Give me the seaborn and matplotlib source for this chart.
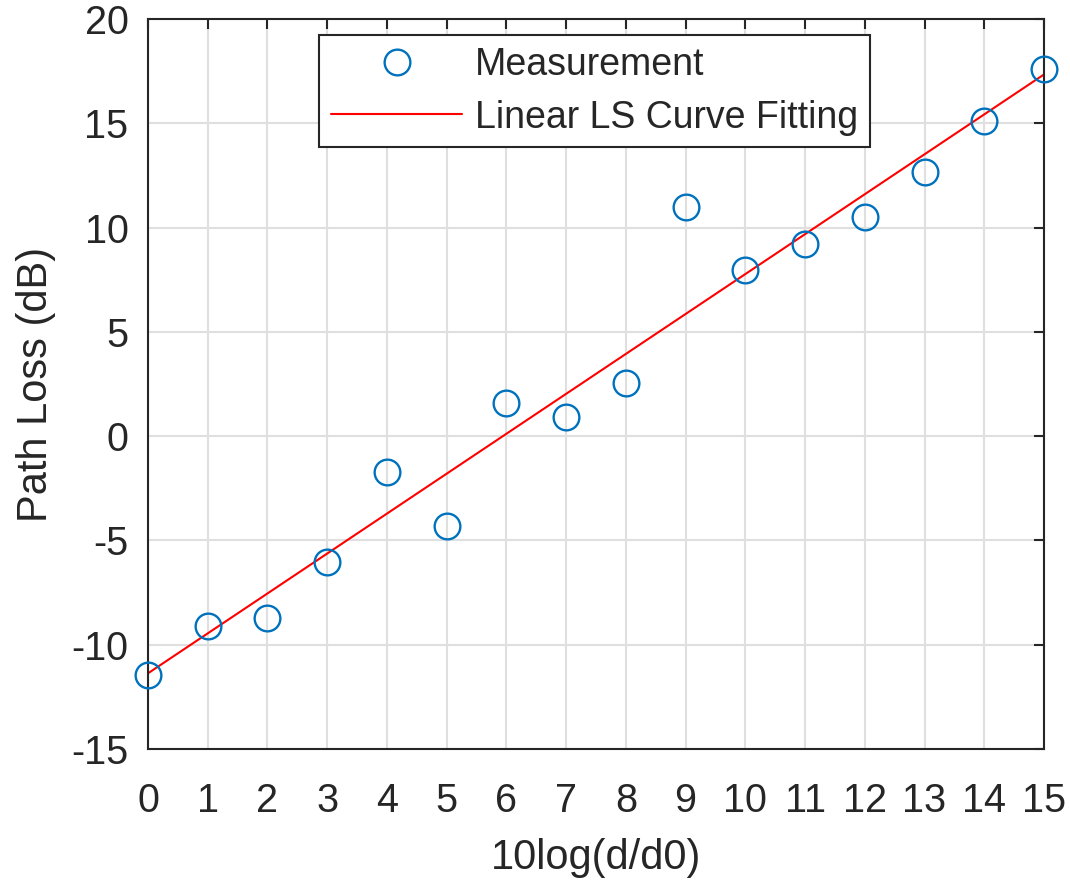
import numpy as np
import pandas as pd
import matplotlib
matplotlib.use("Agg")
import matplotlib.pyplot as plt
import seaborn as sns

# Normalised distance (dB) and measured path loss (dB)
distance_db = [0, 1, 2, 3, 4, 5, 6, 7, 8, 9, 10, 11, 12, 13, 14, 15]
path_loss = [-11.45, -9.1, -8.7, -6.05, -1.7, -4.3, 1.6, 0.9, 2.55,
             11.0, 7.95, 9.2, 10.5, 12.65, 15.1, 17.6]

x_ticks = list(range(0, 16))
y_ticks = [-15, -10, -5, 0, 5, 10, 15, 20]

# Least-squares straight-line fit to the measurements
slope, intercept = np.polyfit(distance_db, path_loss, 1)
fit_df = pd.DataFrame({"x": distance_db,
                       "y": np.polyval([slope, intercept], distance_db)})
meas_df = pd.DataFrame({"x": distance_db, "y": path_loss})

sns.set_theme(style="whitegrid")
plt.rcParams["font.family"] = ["Liberation Sans", "DejaVu Sans"]
plt.rcParams["axes.unicode_minus"] = False

fig, ax = plt.subplots(figsize=(10.7, 8.86), dpi=100)
fig.subplots_adjust(left=0.1383, right=0.9757, top=0.9786, bottom=0.1546)

ax.plot(meas_df["x"], meas_df["y"], linestyle="none", marker="o",
        markersize=18.5, markerfacecolor="none", markeredgecolor="#0072BD",
        markeredgewidth=1.7, label="Measurement", zorder=3, clip_on=False)
sns.lineplot(data=fit_df, x="x", y="y", color="red", linewidth=1.5,
             label="Linear LS Curve Fitting", ax=ax, zorder=2)

ax.set_xlim(0, 15)
ax.set_ylim(-15, 20)
ax.set_xticks(x_ticks)
ax.set_yticks(y_ticks)
ax.set_xlabel("10log(d/d0)", fontsize=30, color="#262626", labelpad=13)
ax.set_ylabel("Path Loss (dB)", fontsize=30, color="#262626", labelpad=11)
ax.tick_params(axis="both", labelsize=28.5, colors="#262626", direction="in",
               length=7, width=1.5, top=True, right=True)
ax.tick_params(axis="x", pad=24)
ax.tick_params(axis="y", pad=14)

ax.set_facecolor("white")
ax.grid(True, color="#DFDFDF", linewidth=1.5)
for side in ["left", "right", "top", "bottom"]:
    ax.spines[side].set_visible(True)
    ax.spines[side].set_color("#262626")
    ax.spines[side].set_linewidth(1.5)

leg = ax.legend(loc="upper center", bbox_to_anchor=(0.4985, 0.978),
                borderaxespad=0, fontsize=27, frameon=True, fancybox=False,
                handlelength=3.5, handletextpad=0.35, borderpad=0.31,
                labelspacing=0.45, edgecolor="#262626", framealpha=1)
leg.get_frame().set_linewidth(1.5)

fig.savefig("out.png", dpi=100, facecolor="white")
